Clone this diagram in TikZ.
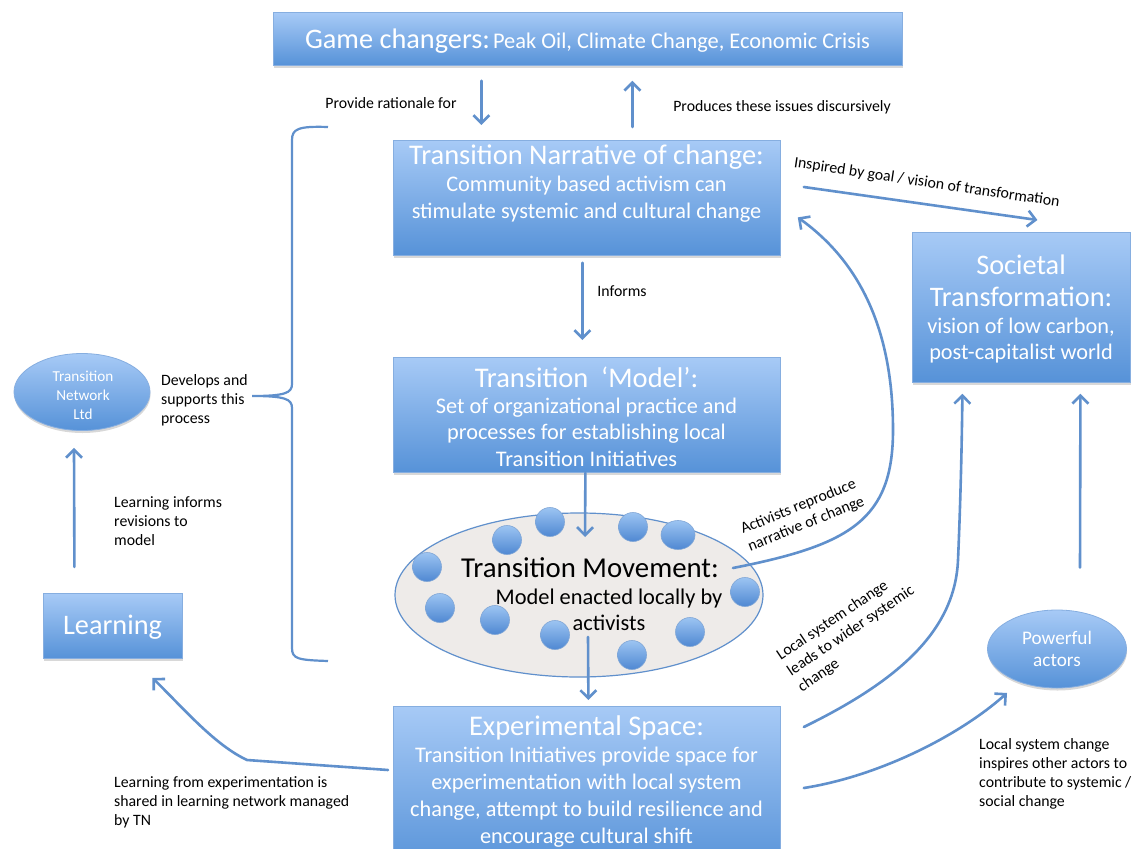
\documentclass[tikz,border=0pt]{standalone}
\usepackage{fontspec}
\setmainfont{Carlito}
\usetikzlibrary{arrows.meta,shadows,shapes.geometric}
\definecolor{boxtop}{HTML}{A7CAF6}
\definecolor{boxbot}{HTML}{5692D8}
\definecolor{boxline}{HTML}{86AEE0}
\definecolor{arrcol}{HTML}{6090CC}
\definecolor{ellfill}{HTML}{EEEBE9}
\definecolor{dottop}{HTML}{9CC4F2}
\definecolor{dotbot}{HTML}{4F88D2}
\tikzset{
 bluebox/.style={rectangle, draw=boxline, line width=0.8pt, top color=boxtop, bottom color=boxbot,
   drop shadow={shadow xshift=0.5pt, shadow yshift=-2.5pt, opacity=0.3}, inner sep=0pt},
 blueell/.style={ellipse, draw=boxline, line width=0.8pt, top color=boxtop, bottom color=boxbot,
   drop shadow={shadow xshift=0.5pt, shadow yshift=-2.5pt, opacity=0.3}, inner sep=0pt},
 conn/.style={draw=arrcol, line width=2.6pt, -{Straight Barb[length=8pt,width=16pt]}, line cap=round},
 wtitle/.style={text=white, font=\fontsize{28.5}{32}\selectfont, align=center, inner sep=0pt},
 wbody/.style={text=white, font=\fontsize{22.3}{26.5}\selectfont, align=center, inner sep=0pt},
 lab/.style={text=black, font=\fontsize{15.8}{19}\selectfont, align=left, inner sep=0pt},
 dot/.style={ellipse, minimum width=29pt, minimum height=29pt, inner sep=0pt, top color=dottop, bottom color=dotbot, draw=arrcol!80, line width=0.6pt},
}
\begin{document}
\begin{tikzpicture}[x=1pt,y=-1pt]
\clip (0,0) rectangle (1142,848);
\fill[white] (0,0) rectangle (1142,848);

% boxes
\node[bluebox, anchor=north west, minimum width=629pt, minimum height=53pt] (game) at (273,12) {};
\node[text=white, inner sep=0pt] (gametxt) at (587.5,41) {{\fontsize{28.3}{32}\selectfont Game changers:} {\fontsize{22.4}{26}\selectfont Peak Oil, Climate Change, Economic Crisis}};

\node[bluebox, anchor=north west, minimum width=387pt, minimum height=115pt] (narr) at (393,140) {};
\node[wtitle] (narrt) at (586.5,157) {Transition Narrative of change:};
\node[wbody] (narrb) at (586.5,199) {Community based activism can\\stimulate systemic and cultural change};

\node[bluebox, anchor=north west, minimum width=387pt, minimum height=115pt] (model) at (393,357) {};
\node[wtitle] (modelt) at (586.5,377) {Transition\ \ ‘Model’:};
\node[wbody] (modelb) at (586.5,432) {Set of organizational practice and\\processes for establishing local\\Transition Initiatives};

\node[bluebox, anchor=north west, minimum width=387pt, minimum height=165pt] (exp) at (393,706) {};
\node[wtitle] (expt) at (586.5,728) {Experimental Space:};
\node[wbody, font=\fontsize{22.3}{27}\selectfont] (expb) at (586.5,797) {Transition Initiatives provide space for\\experimentation with local system\\change, attempt to build resilience and\\encourage cultural shift};

\node[bluebox, anchor=north west, minimum width=218pt, minimum height=150pt] (soc) at (912,232) {};
\node[wtitle, font=\fontsize{28.3}{32}\selectfont] (soct) at (1021,281) {Societal\\Transformation:};
\node[wbody, font=\fontsize{22.3}{26}\selectfont] (socb) at (1021,341) {vision of low carbon,\\post-capitalist world};

\node[bluebox, anchor=north west, minimum width=139pt, minimum height=65pt] (learn) at (43,593) {};
\node[text=white, inner sep=0pt, font=\fontsize{28.3}{32}\selectfont] (learnt) at (112.5,627) {Learning};

\node[blueell, minimum width=136pt, minimum height=77pt] (tn) at (82,392) {};
\node[text=white, inner sep=0pt, align=center, font=\fontsize{15.2}{19}\selectfont] (tnt) at (83,395) {Transition\\Network\\Ltd};

\node[blueell, minimum width=139pt, minimum height=78pt] (pow) at (1057,649) {};
\node[text=white, inner sep=0pt, align=center, font=\fontsize{19.2}{22.5}\selectfont] (powt) at (1057,649) {Powerful\\actors};

% movement ellipse
\node[ellipse, draw=arrcol, line width=1.2pt, fill=ellfill, minimum width=368pt, minimum height=164pt, inner sep=0pt] (mov) at (579,595) {};
\foreach \x/\y [count=\i] in {427/567,507/540,550/522,633/527,440/608,495/620,555/635,632/655,690/632,745/592}
  \node[dot] (d\i) at (\x,\y) {};
\node[dot, minimum width=34pt] (d11) at (678,535) {};
\node[inner sep=0pt, font=\fontsize{28.8}{32}\selectfont] (movt) at (590,568) {Transition Movement:};
\node[inner sep=0pt, align=center, font=\fontsize{22.4}{26}\selectfont] (movb) at (609,610) {Model enacted locally by\\activists};

% brace
\draw[arrcol, line width=2.2pt] (328,127) .. controls (298,126) and (292,129) .. (292,140) -- (292,384)
  .. controls (292,393) and (285,396) .. (252,396) .. controls (285,396) and (292,399) .. (292,408)
  -- (292,648) .. controls (292,659) and (298,660) .. (328,661);

% connectors
\draw[conn] ([shift={(-106.5,15)}]game.south) -- ([shift={(-105.5,-15)}]narr.north);
\draw[conn] ([shift={(45.5,-13)}]narr.north) -- ([shift={(44.5,15)}]game.south);
\draw[conn] ([shift={(-4.5,7)}]narr.south) -- ([shift={(-4.5,-17)}]model.north);
\draw[conn] ([shift={(-1.5,0)}]model.south) -- ([shift={(6,-58)}]mov.center);
\draw[conn] ([shift={(9,42)}]mov.center) -- ([shift={(1.5,-6)}]exp.north);
\draw[conn] ([shift={(-38.5,-26)}]learn.north) -- ([shift={(-8,17)}]tn.south);
\coordinate (lk) at (247,760);
\draw[conn] ([shift={(-5,64)}]exp.north west) -- (lk) .. controls (215,745) and (185,710) .. ([shift={(39.5,19)}]learn.south);
\draw[conn] ([shift={(23,82)}]exp.north east) .. controls (880,776) and (960,735) .. ([shift={(-50,44)}]pow.center);
\draw[conn] ([shift={(23,21)}]exp.north east) .. controls (900,680) and (955,630) .. (958,560) .. controls (961,490) and (962,430) .. ([shift={(-59,11)}]soc.south);
\draw[conn] ([shift={(23,-42)}]pow.north) -- ([shift={(59,11)}]soc.south);
\draw[conn] ([shift={(154,-27)}]mov.center) .. controls (850,545) and (893,520) .. (893,430) .. controls (893,330) and (860,262) .. ([shift={(17,19.5)}]narr.east);
\draw[conn] ([shift={(23,47)}]narr.north east) -- ([shift={(16,-12)}]soc.north);

% labels
\node[lab] (l1) at (391,103) {Provide rationale for};
\node[lab] (l2) at (782,107) {Produces these issues discursively};
\node[lab] (l3) at (622,291) {Informs};
\node[lab, anchor=west, rotate=-8.5] (l4) at (794,163) {Inspired by goal / vision of transformation};
\node[lab, anchor=west, rotate=22] (l5) at (745,539) {Activists reproduce\\narrative of change};
\node[lab, anchor=west, rotate=34] (l6) at (789,673) {Local system change\\leads to wider systemic\\change};
\node[lab, anchor=west] (l7) at (161,400) {Develops and\\supports this\\process};
\node[lab, anchor=west] (l8) at (114,521) {Learning informs\\revisions to\\model};
\node[lab, anchor=west] (l9) at (114,802) {Learning from experimentation is\\shared in learning network managed\\by TN};
\node[lab, anchor=west] (l10) at (979,774) {Local system change\\inspires other actors to\\contribute to systemic /\\social change};
\end{tikzpicture}
\end{document}
